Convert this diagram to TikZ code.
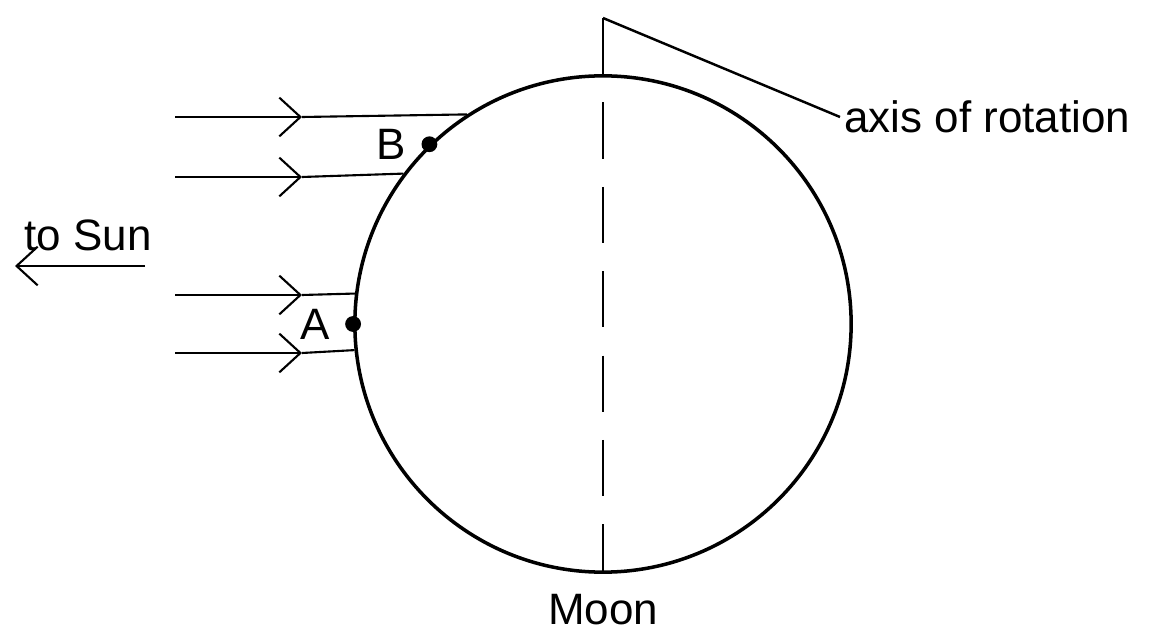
\documentclass[tikz,border=0pt]{standalone}
\usepackage{fontspec}
\setmainfont{Liberation Sans}
\usetikzlibrary{arrows.meta,positioning}

\begin{document}
\begin{tikzpicture}[x=0.01cm,y=-0.01cm,
    ray/.style={line width=0.6pt,-{Straight Barb[length=6pt,width=11pt]}},
    lbl/.style={font=\fontsize{12.5}{15}\selectfont,inner sep=1pt},
    dot/.style={circle,fill=black,inner sep=0pt,minimum size=4.5pt}]
    \useasboundingbox (0,0) rectangle (1155,643);

    \node[circle,draw,line width=1pt,minimum size=4.96cm,inner sep=0pt] (moon) at (603,324){};

    % axis
    \coordinate (top) at (603,18);
    \coordinate (bot) at (603,572);
    \draw[dash pattern=on 16pt off 8pt,line width=0.7pt] (top) -- (bot);
    \node[lbl,anchor=west] (axis) at (840,117){axis of rotation};
    \draw[line width=0.7pt] (top) -- (axis.west);

    % sunlight
    \foreach \y/\a in {117/123.4,177/143.7,295/173.3,353/186.7}{
        \coordinate (s) at (175,\y);
        \coordinate (m) at (302,\y);
        \draw[ray] (s) -- (m);
        \draw[line width=0.6pt] (m) -- (moon.\a);
    }

    \coordinate (sun1) at (145,266);
    \coordinate (sun2) at (15,266);
    \draw[ray] (sun1) -- (sun2);
    \node[lbl] (tosun) at (88,235){to Sun};

    % points
    \node[dot] (B) at (moon.134.7){};
    \node[lbl,left=3pt of B] {B};
    \node[dot] (A) at (moon.180){};
    \node[lbl,left=3pt of A] {A};

    \node[lbl] (name) at (603,610){Moon};
\end{tikzpicture}
\end{document}
